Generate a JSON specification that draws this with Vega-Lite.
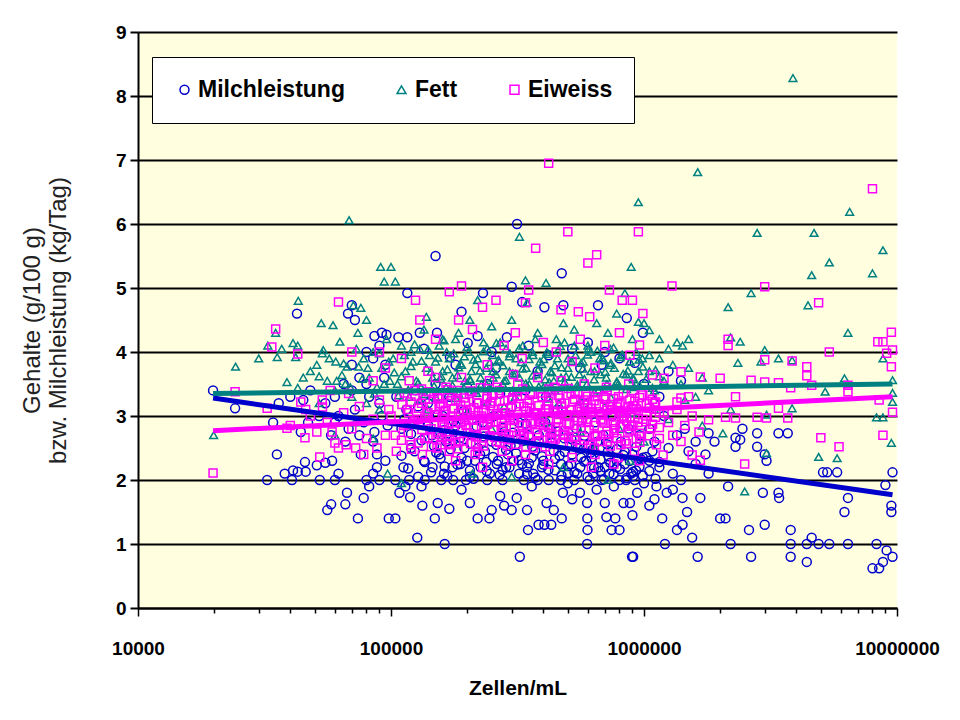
{
"$schema": "https://vega.github.io/schema/vega-lite/v6.json",
"width": 759, "height": 576,
"autosize": {"type": "none"},
"padding": {"left": 138, "top": 32, "right": 63, "bottom": 112},
"background": "white",
"config": {"view": {"fill": "#FFFFE0", "stroke": null}, "font": "Liberation Sans"},
"datasets": {
"milch": [
{"zellen":19800,"wert":3.4},{"zellen":24200,"wert":3.12},{"zellen":32400,"wert":2.0},{"zellen":34200,"wert":2.9},{"zellen":35400,"wert":2.4},{"zellen":38000,"wert":2.1},{"zellen":40600,"wert":2.0},{"zellen":41000,"wert":2.15},{"zellen":42800,"wert":2.13},{"zellen":45700,"wert":2.28},{"zellen":46000,"wert":2.13},{"zellen":42500,"wert":4.6},{"zellen":50900,"wert":2.23},{"zellen":52300,"wert":2.0},{"zellen":55000,"wert":2.27},{"zellen":58500,"wert":2.3},{"zellen":56000,"wert":1.53},{"zellen":58000,"wert":1.62},{"zellen":60000,"wert":2.0},{"zellen":62000,"wert":2.1},{"zellen":67000,"wert":1.8},{"zellen":66000,"wert":1.62},{"zellen":67600,"wert":4.6},{"zellen":70000,"wert":4.73},{"zellen":72000,"wert":4.5},{"zellen":74000,"wert":1.4},{"zellen":78000,"wert":1.72},{"zellen":80000,"wert":2.0},{"zellen":82000,"wert":1.9},{"zellen":85000,"wert":2.1},{"zellen":88000,"wert":2.4},{"zellen":90000,"wert":2.0},{"zellen":55000,"wert":3.2},{"zellen":48000,"wert":3.4},{"zellen":45000,"wert":3.25},{"zellen":60000,"wert":3.3},{"zellen":65000,"wert":3.5},{"zellen":70000,"wert":3.8},{"zellen":75000,"wert":3.6},{"zellen":80000,"wert":3.5},{"zellen":85000,"wert":3.9},{"zellen":90000,"wert":3.2},{"zellen":95000,"wert":3.8},{"zellen":60000,"wert":2.9},{"zellen":75000,"wert":2.7},{"zellen":85000,"wert":2.6},{"zellen":95000,"wert":2.3},{"zellen":98000,"wert":1.4},{"zellen":92000,"wert":4.3},{"zellen":62000,"wert":3.0},{"zellen":68000,"wert":2.8},{"zellen":72000,"wert":3.1},{"zellen":78000,"wert":2.9},{"zellen":82000,"wert":3.3},{"zellen":86000,"wert":2.75},{"zellen":92000,"wert":3.0},{"zellen":97000,"wert":2.85},{"zellen":66000,"wert":2.6},{"zellen":76000,"wert":2.4},{"zellen":88000,"wert":2.2},{"zellen":94000,"wert":3.6},{"zellen":58000,"wert":2.7},{"zellen":52000,"wert":3.0},{"zellen":47000,"wert":2.9},{"zellen":40000,"wert":3.3},{"zellen":36000,"wert":3.2},{"zellen":44000,"wert":2.75},{"zellen":70000,"wert":3.4},{"zellen":80000,"wert":4.0},{"zellen":86000,"wert":4.25},{"zellen":90000,"wert":4.1},
{"zellen":96000,"wert":4.27},{"zellen":107000,"wert":4.23},{"zellen":116000,"wert":4.23},{"zellen":130000,"wert":4.3},{"zellen":152000,"wert":4.3},{"zellen":116000,"wert":4.92},{"zellen":150000,"wert":5.5},{"zellen":190000,"wert":4.63},{"zellen":231000,"wert":4.92},{"zellen":300000,"wert":5.02},{"zellen":315000,"wert":6.0},{"zellen":201000,"wert":4.14},{"zellen":220000,"wert":4.25},{"zellen":287000,"wert":4.23},{"zellen":171000,"wert":3.92},{"zellen":330000,"wert":4.78},{"zellen":473000,"wert":5.23},{"zellen":404000,"wert":4.7},{"zellen":480000,"wert":4.73},{"zellen":658000,"wert":4.73},{"zellen":855000,"wert":4.53},{"zellen":990000,"wert":4.3},{"zellen":250000,"wert":4.0},{"zellen":350000,"wert":4.1},{"zellen":420000,"wert":3.95},{"zellen":520000,"wert":4.05},{"zellen":600000,"wert":4.15},{"zellen":700000,"wert":4.0},{"zellen":800000,"wert":3.9},{"zellen":920000,"wert":3.83},{"zellen":135000,"wert":4.05},{"zellen":180000,"wert":3.8},{"zellen":260000,"wert":3.75},{"zellen":380000,"wert":3.7},{"zellen":560000,"wert":3.75},{"zellen":680000,"wert":3.8},
{"zellen":105000,"wert":3.3},{"zellen":110000,"wert":2.8},{"zellen":115000,"wert":3.1},{"zellen":120000,"wert":2.5},{"zellen":125000,"wert":3.4},{"zellen":130000,"wert":2.9},{"zellen":135000,"wert":2.3},{"zellen":140000,"wert":3.2},{"zellen":145000,"wert":2.7},{"zellen":150000,"wert":3.5},{"zellen":155000,"wert":2.4},{"zellen":160000,"wert":3.0},{"zellen":165000,"wert":2.6},{"zellen":170000,"wert":3.3},{"zellen":175000,"wert":2.2},{"zellen":180000,"wert":2.85},{"zellen":190000,"wert":3.1},{"zellen":195000,"wert":2.5},{"zellen":200000,"wert":3.45},{"zellen":210000,"wert":2.7},{"zellen":215000,"wert":2.3},{"zellen":220000,"wert":3.2},{"zellen":230000,"wert":2.9},{"zellen":235000,"wert":2.45},{"zellen":240000,"wert":3.5},{"zellen":250000,"wert":2.6},{"zellen":255000,"wert":3.0},{"zellen":265000,"wert":2.3},{"zellen":270000,"wert":3.35},{"zellen":280000,"wert":2.75},{"zellen":290000,"wert":2.4},{"zellen":300000,"wert":3.15},{"zellen":310000,"wert":2.55},{"zellen":320000,"wert":2.9},{"zellen":330000,"wert":2.25},{"zellen":340000,"wert":3.4},{"zellen":350000,"wert":2.7},{"zellen":360000,"wert":2.35},{"zellen":370000,"wert":3.05},{"zellen":385000,"wert":2.6},{"zellen":400000,"wert":2.3},{"zellen":410000,"wert":3.3},{"zellen":425000,"wert":2.8},{"zellen":440000,"wert":2.45},{"zellen":455000,"wert":3.1},{"zellen":470000,"wert":2.25},{"zellen":485000,"wert":2.65},{"zellen":500000,"wert":3.0},{"zellen":520000,"wert":2.4},{"zellen":540000,"wert":2.8},{"zellen":560000,"wert":2.2},{"zellen":580000,"wert":3.2},{"zellen":600000,"wert":2.55},{"zellen":620000,"wert":2.35},{"zellen":640000,"wert":2.9},{"zellen":660000,"wert":2.2},{"zellen":690000,"wert":2.7},{"zellen":720000,"wert":2.45},{"zellen":750000,"wert":3.0},{"zellen":780000,"wert":2.3},{"zellen":810000,"wert":2.6},{"zellen":840000,"wert":2.25},{"zellen":870000,"wert":2.8},{"zellen":900000,"wert":2.4},{"zellen":930000,"wert":2.15},{"zellen":960000,"wert":2.7},{"zellen":990000,"wert":2.35},
{"zellen":110000,"wert":2.38},{"zellen":113000,"wert":2.95},{"zellen":117000,"wert":2.18},{"zellen":120000,"wert":2.72},{"zellen":124000,"wert":2.45},{"zellen":128000,"wert":3.15},{"zellen":132000,"wert":2.62},{"zellen":136000,"wert":2.28},{"zellen":140000,"wert":2.86},{"zellen":144000,"wert":2.12},{"zellen":148000,"wert":2.53},{"zellen":153000,"wert":3.02},{"zellen":157000,"wert":2.34},{"zellen":162000,"wert":2.78},{"zellen":167000,"wert":2.06},{"zellen":172000,"wert":2.48},{"zellen":177000,"wert":2.92},{"zellen":183000,"wert":2.24},{"zellen":188000,"wert":2.66},{"zellen":194000,"wert":3.08},{"zellen":200000,"wert":2.3},{"zellen":206000,"wert":2.57},{"zellen":212000,"wert":2.02},{"zellen":218000,"wert":2.84},{"zellen":225000,"wert":2.4},{"zellen":232000,"wert":2.68},{"zellen":239000,"wert":2.14},{"zellen":246000,"wert":2.96},{"zellen":253000,"wert":2.36},{"zellen":261000,"wert":2.55},{"zellen":269000,"wert":2.08},{"zellen":277000,"wert":2.82},{"zellen":285000,"wert":2.47},{"zellen":294000,"wert":2.2},{"zellen":303000,"wert":2.74},{"zellen":312000,"wert":2.42},{"zellen":321000,"wert":2.1},{"zellen":331000,"wert":2.61},{"zellen":341000,"wert":2.88},{"zellen":351000,"wert":2.26},{"zellen":362000,"wert":2.52},{"zellen":372000,"wert":2.04},{"zellen":384000,"wert":2.7},{"zellen":395000,"wert":2.37},{"zellen":407000,"wert":2.9},{"zellen":419000,"wert":2.16},{"zellen":432000,"wert":2.58},{"zellen":445000,"wert":2.33},{"zellen":458000,"wert":2.76},{"zellen":472000,"wert":2.07},{"zellen":486000,"wert":2.44},{"zellen":501000,"wert":2.22},{"zellen":516000,"wert":2.64},{"zellen":531000,"wert":2.12},{"zellen":547000,"wert":2.5},{"zellen":564000,"wert":2.35},{"zellen":581000,"wert":2.69},{"zellen":598000,"wert":2.05},{"zellen":616000,"wert":2.43},{"zellen":635000,"wert":2.19},{"zellen":654000,"wert":2.6},{"zellen":673000,"wert":2.32},{"zellen":694000,"wert":2.01},{"zellen":714000,"wert":2.56},{"zellen":736000,"wert":2.27},{"zellen":758000,"wert":2.09},{"zellen":781000,"wert":2.48},{"zellen":804000,"wert":2.17},{"zellen":828000,"wert":2.39},{"zellen":853000,"wert":2.03},{"zellen":879000,"wert":2.3},{"zellen":905000,"wert":2.13},{"zellen":932000,"wert":2.52},{"zellen":960000,"wert":2.21},{"zellen":989000,"wert":2.07},{"zellen":1020000,"wert":2.36},{"zellen":1050000,"wert":2.14},{"zellen":1080000,"wert":2.45},{"zellen":1110000,"wert":2.02},{"zellen":1150000,"wert":2.28},
{"zellen":151000,"wert":2.43},{"zellen":163000,"wert":2.21},{"zellen":176000,"wert":2.62},{"zellen":190000,"wert":2.35},{"zellen":205000,"wert":2.05},{"zellen":221000,"wert":2.5},{"zellen":238000,"wert":2.28},{"zellen":256000,"wert":2.67},{"zellen":276000,"wert":2.16},{"zellen":297000,"wert":2.54},{"zellen":320000,"wert":2.31},{"zellen":345000,"wert":2.09},{"zellen":371000,"wert":2.46},{"zellen":400000,"wert":2.24},{"zellen":431000,"wert":2.6},{"zellen":464000,"wert":2.38},{"zellen":500000,"wert":2.11},{"zellen":538000,"wert":2.55},{"zellen":580000,"wert":2.29},{"zellen":624000,"wert":2.47},{"zellen":672000,"wert":2.14},{"zellen":724000,"wert":2.37},{"zellen":780000,"wert":2.2},{"zellen":840000,"wert":2.44},{"zellen":905000,"wert":2.06},{"zellen":975000,"wert":2.32},
{"zellen":112000,"wert":2.2},{"zellen":128000,"wert":2.05},{"zellen":146000,"wert":2.2},{"zellen":162000,"wert":2.1},{"zellen":188000,"wert":2.25},{"zellen":205000,"wert":2.15},{"zellen":226000,"wert":2.2},{"zellen":246000,"wert":2.1},{"zellen":262000,"wert":2.25},{"zellen":285000,"wert":2.2},{"zellen":305000,"wert":2.3},{"zellen":345000,"wert":2.2},{"zellen":365000,"wert":2.1},{"zellen":395000,"wert":2.2},{"zellen":445000,"wert":2.15},{"zellen":515000,"wert":2.25},{"zellen":545000,"wert":2.1},{"zellen":590000,"wert":2.3},{"zellen":630000,"wert":2.1},{"zellen":700000,"wert":2.2},{"zellen":730000,"wert":2.1},{"zellen":760000,"wert":2.25},{"zellen":890000,"wert":2.1},
{"zellen":104000,"wert":2.0},{"zellen":118000,"wert":2.0},{"zellen":136000,"wert":2.0},{"zellen":158000,"wert":2.0},{"zellen":176000,"wert":2.0},{"zellen":198000,"wert":2.0},{"zellen":240000,"wert":2.0},{"zellen":276000,"wert":2.0},{"zellen":335000,"wert":2.0},{"zellen":380000,"wert":2.0},{"zellen":420000,"wert":2.0},{"zellen":470000,"wert":2.0},{"zellen":530000,"wert":2.0},{"zellen":610000,"wert":2.0},{"zellen":680000,"wert":2.0},{"zellen":800000,"wert":2.0},{"zellen":850000,"wert":2.0},{"zellen":920000,"wert":2.0},
{"zellen":104000,"wert":1.4},{"zellen":149000,"wert":1.4},{"zellen":153000,"wert":1.64},{"zellen":133000,"wert":1.6},{"zellen":119000,"wert":1.73},{"zellen":108000,"wert":1.8},{"zellen":114000,"wert":1.9},{"zellen":132000,"wert":1.9},{"zellen":205000,"wert":1.64},{"zellen":220000,"wert":1.4},{"zellen":250000,"wert":1.53},{"zellen":245000,"wert":1.4},{"zellen":300000,"wert":1.53},{"zellen":345000,"wert":1.53},{"zellen":314000,"wert":1.72},{"zellen":348000,"wert":1.22},{"zellen":383000,"wert":1.3},{"zellen":404000,"wert":1.3},{"zellen":430000,"wert":1.3},{"zellen":473000,"wert":1.4},{"zellen":412000,"wert":1.64},{"zellen":440000,"wert":1.53},{"zellen":478000,"wert":1.8},{"zellen":558000,"wert":1.8},{"zellen":596000,"wert":1.64},{"zellen":597000,"wert":1.4},{"zellen":598000,"wert":1.22},{"zellen":700000,"wert":1.64},{"zellen":710000,"wert":1.42},{"zellen":745000,"wert":1.22},{"zellen":770000,"wert":1.4},{"zellen":800000,"wert":1.22},{"zellen":830000,"wert":1.64},{"zellen":880000,"wert":1.64},{"zellen":127000,"wert":1.1},{"zellen":163000,"wert":1.0},{"zellen":596000,"wert":1.0},{"zellen":323000,"wert":0.8},{"zellen":897000,"wert":0.8},{"zellen":190000,"wert":1.85},{"zellen":270000,"wert":1.75},{"zellen":360000,"wert":1.9},{"zellen":500000,"wert":1.95},{"zellen":650000,"wert":1.85},{"zellen":760000,"wert":1.9},{"zellen":940000,"wert":1.8},{"zellen":170000,"wert":1.55},{"zellen":280000,"wert":1.6},{"zellen":520000,"wert":1.7},{"zellen":900000,"wert":1.45},
{"zellen":906000,"wert":0.8},{"zellen":1210000,"wert":1.0},{"zellen":1630000,"wert":0.8},{"zellen":1550000,"wert":1.1},{"zellen":1350000,"wert":1.22},{"zellen":1420000,"wert":1.3},{"zellen":1180000,"wert":1.4},{"zellen":1480000,"wert":1.5},{"zellen":1420000,"wert":1.72},{"zellen":1230000,"wert":1.8},{"zellen":1670000,"wert":1.72},{"zellen":1120000,"wert":1.9},{"zellen":1400000,"wert":2.0},{"zellen":1800000,"wert":2.1},{"zellen":1750000,"wert":2.4},{"zellen":2150000,"wert":1.9},{"zellen":2000000,"wert":1.4},{"zellen":2100000,"wert":1.4},{"zellen":2200000,"wert":1.0},{"zellen":2650000,"wert":0.8},{"zellen":2600000,"wert":1.22},{"zellen":3000000,"wert":1.3},{"zellen":2950000,"wert":1.8},{"zellen":3400000,"wert":1.8},{"zellen":3420000,"wert":1.72},{"zellen":3800000,"wert":1.22},{"zellen":3800000,"wert":1.0},{"zellen":3800000,"wert":0.8},{"zellen":4400000,"wert":0.72},{"zellen":4400000,"wert":1.0},{"zellen":4600000,"wert":1.1},{"zellen":4900000,"wert":1.0},{"zellen":5400000,"wert":1.0},{"zellen":6400000,"wert":1.0},{"zellen":6200000,"wert":1.5},{"zellen":6400000,"wert":1.72},{"zellen":5100000,"wert":2.12},{"zellen":5300000,"wert":2.12},{"zellen":5800000,"wert":2.12},{"zellen":8300000,"wert":1.0},{"zellen":9100000,"wert":0.9},{"zellen":8800000,"wert":0.72},{"zellen":8000000,"wert":0.62},{"zellen":8500000,"wert":0.62},{"zellen":9600000,"wert":0.8},{"zellen":9500000,"wert":1.5},{"zellen":9500000,"wert":1.6},{"zellen":9000000,"wert":1.92},{"zellen":9600000,"wert":2.12},{"zellen":2300000,"wert":2.52},{"zellen":2400000,"wert":2.63},{"zellen":2300000,"wert":2.66},{"zellen":2800000,"wert":2.52},{"zellen":2800000,"wert":2.73},{"zellen":3000000,"wert":2.4},{"zellen":3050000,"wert":2.3},{"zellen":3400000,"wert":2.73},{"zellen":3700000,"wert":2.73},{"zellen":2450000,"wert":2.8},{"zellen":1800000,"wert":2.73},
{"zellen":1050000,"wert":2.3},{"zellen":1100000,"wert":2.6},{"zellen":1150000,"wert":2.2},{"zellen":1250000,"wert":2.5},{"zellen":1300000,"wert":2.1},{"zellen":1050000,"wert":2.8},{"zellen":1200000,"wert":3.0},{"zellen":1350000,"wert":2.7},{"zellen":1500000,"wert":2.45},{"zellen":1600000,"wert":2.25},{"zellen":1100000,"wert":1.7},{"zellen":1000000,"wert":1.95},{"zellen":1050000,"wert":1.6},{"zellen":1300000,"wert":1.85},{"zellen":1450000,"wert":2.8},{"zellen":1600000,"wert":2.6},{"zellen":1900000,"wert":2.6},{"zellen":1150000,"wert":3.3},{"zellen":1000000,"wert":3.5},{"zellen":1250000,"wert":3.7},{"zellen":1400000,"wert":3.55}
],
"fett": [
{"zellen":19900,"wert":2.7},{"zellen":24300,"wert":3.77},{"zellen":32600,"wert":4.1},{"zellen":35500,"wert":3.92},{"zellen":35000,"wert":4.3},{"zellen":41000,"wert":4.14},{"zellen":42800,"wert":4.1},{"zellen":42000,"wert":3.92},{"zellen":53000,"wert":4.45},{"zellen":43000,"wert":4.8},{"zellen":50900,"wert":3.8},{"zellen":54000,"wert":4.03},{"zellen":53500,"wert":3.98},{"zellen":62800,"wert":4.16},{"zellen":60500,"wert":3.85},{"zellen":64000,"wert":3.64},{"zellen":67000,"wert":3.77},{"zellen":74000,"wert":4.3},{"zellen":76000,"wert":4.69},{"zellen":74500,"wert":3.77},{"zellen":38800,"wert":3.53},{"zellen":42800,"wert":3.44},{"zellen":68300,"wert":6.06},{"zellen":91000,"wert":5.33},{"zellen":94000,"wert":5.1},{"zellen":59000,"wert":4.42},{"zellen":71000,"wert":4.73},{"zellen":45000,"wert":3.6},{"zellen":48000,"wert":3.7},{"zellen":56000,"wert":3.55},{"zellen":60000,"wert":3.4},{"zellen":66000,"wert":3.5},{"zellen":70000,"wert":3.3},{"zellen":78000,"wert":3.9},{"zellen":82000,"wert":3.6},{"zellen":85000,"wert":4.0},{"zellen":88000,"wert":3.45},{"zellen":92000,"wert":3.75},{"zellen":96000,"wert":4.2},{"zellen":99000,"wert":3.55},{"zellen":80000,"wert":4.5},{"zellen":37000,"wert":4.05},{"zellen":30000,"wert":3.9},{"zellen":52000,"wert":3.2},{"zellen":80000,"wert":3.2},{"zellen":90000,"wert":3.1},{"zellen":72000,"wert":2.9},{"zellen":97000,"wert":2.1},{"zellen":110000,"wert":1.95},{"zellen":60000,"wert":2.7},{"zellen":85000,"wert":2.65},
{"zellen":52000,"wert":3.62},{"zellen":57000,"wert":3.9},{"zellen":61000,"wert":3.55},{"zellen":65000,"wert":3.82},{"zellen":69000,"wert":3.45},{"zellen":73000,"wert":4.05},{"zellen":77000,"wert":3.58},{"zellen":81000,"wert":3.75},{"zellen":86000,"wert":3.35},{"zellen":90000,"wert":3.98},{"zellen":94000,"wert":3.5},{"zellen":98000,"wert":3.85},{"zellen":103000,"wert":3.68},{"zellen":107000,"wert":3.32},
{"zellen":322000,"wert":5.8},{"zellen":340000,"wert":5.12},{"zellen":410000,"wert":5.08},{"zellen":138000,"wert":4.55},{"zellen":220000,"wert":4.81},{"zellen":205000,"wert":4.5},{"zellen":345000,"wert":4.77},{"zellen":480000,"wert":4.45},{"zellen":650000,"wert":4.45},{"zellen":840000,"wert":4.92},{"zellen":890000,"wert":5.33},{"zellen":950000,"wert":6.34},{"zellen":100000,"wert":5.33},{"zellen":104000,"wert":5.1},{"zellen":120000,"wert":4.0},{"zellen":135000,"wert":4.35},{"zellen":160000,"wert":4.2},{"zellen":185000,"wert":4.3},{"zellen":250000,"wert":4.4},{"zellen":270000,"wert":4.15},{"zellen":300000,"wert":4.5},{"zellen":380000,"wert":4.3},{"zellen":450000,"wert":4.2},{"zellen":530000,"wert":4.35},{"zellen":600000,"wert":4.1},{"zellen":720000,"wert":4.3},{"zellen":780000,"wert":4.6},{"zellen":900000,"wert":4.2},{"zellen":1000000,"wert":4.45},
{"zellen":102000,"wert":3.9},{"zellen":106000,"wert":3.5},{"zellen":110000,"wert":4.1},{"zellen":114000,"wert":3.7},{"zellen":118000,"wert":3.3},{"zellen":122000,"wert":3.85},{"zellen":126000,"wert":3.55},{"zellen":130000,"wert":4.05},{"zellen":134000,"wert":3.4},{"zellen":138000,"wert":3.75},{"zellen":142000,"wert":3.95},{"zellen":146000,"wert":3.6},{"zellen":150000,"wert":3.3},{"zellen":155000,"wert":4.1},{"zellen":160000,"wert":3.7},{"zellen":165000,"wert":3.45},{"zellen":170000,"wert":3.9},{"zellen":175000,"wert":3.6},{"zellen":180000,"wert":4.2},{"zellen":185000,"wert":3.35},{"zellen":190000,"wert":3.8},{"zellen":196000,"wert":3.55},{"zellen":202000,"wert":4.0},{"zellen":208000,"wert":3.7},{"zellen":214000,"wert":3.4},{"zellen":220000,"wert":3.9},{"zellen":226000,"wert":3.6},{"zellen":232000,"wert":4.15},{"zellen":238000,"wert":3.75},{"zellen":245000,"wert":3.45},{"zellen":252000,"wert":3.95},{"zellen":260000,"wert":3.65},{"zellen":268000,"wert":3.85},{"zellen":276000,"wert":3.5},{"zellen":285000,"wert":4.05},{"zellen":294000,"wert":3.7},{"zellen":303000,"wert":3.4},{"zellen":312000,"wert":3.9},{"zellen":322000,"wert":3.6},{"zellen":332000,"wert":4.1},{"zellen":342000,"wert":3.75},{"zellen":352000,"wert":3.5},{"zellen":364000,"wert":3.95},{"zellen":376000,"wert":3.65},{"zellen":388000,"wert":3.85},{"zellen":400000,"wert":3.45},{"zellen":413000,"wert":4.0},{"zellen":426000,"wert":3.7},{"zellen":440000,"wert":3.55},{"zellen":455000,"wert":3.9},{"zellen":470000,"wert":3.6},{"zellen":485000,"wert":4.15},{"zellen":500000,"wert":3.75},{"zellen":518000,"wert":3.45},{"zellen":536000,"wert":3.95},{"zellen":555000,"wert":3.65},{"zellen":575000,"wert":3.85},{"zellen":595000,"wert":3.5},{"zellen":616000,"wert":4.0},{"zellen":638000,"wert":3.7},{"zellen":660000,"wert":3.4},{"zellen":685000,"wert":3.9},{"zellen":710000,"wert":3.6},{"zellen":736000,"wert":4.05},{"zellen":763000,"wert":3.75},{"zellen":790000,"wert":3.5},{"zellen":820000,"wert":3.95},{"zellen":850000,"wert":3.65},{"zellen":880000,"wert":3.85},{"zellen":915000,"wert":3.45},{"zellen":950000,"wert":3.7},{"zellen":985000,"wert":3.9},
{"zellen":110000,"wert":3.62},{"zellen":113000,"wert":3.95},{"zellen":117000,"wert":3.41},{"zellen":120000,"wert":3.78},{"zellen":124000,"wert":4.12},{"zellen":128000,"wert":3.52},{"zellen":132000,"wert":3.86},{"zellen":136000,"wert":3.34},{"zellen":140000,"wert":4.04},{"zellen":144000,"wert":3.69},{"zellen":148000,"wert":3.47},{"zellen":153000,"wert":3.91},{"zellen":157000,"wert":3.58},{"zellen":162000,"wert":4.18},{"zellen":167000,"wert":3.73},{"zellen":172000,"wert":3.39},{"zellen":177000,"wert":3.98},{"zellen":183000,"wert":3.64},{"zellen":188000,"wert":3.82},{"zellen":194000,"wert":3.44},{"zellen":200000,"wert":4.08},{"zellen":206000,"wert":3.55},{"zellen":212000,"wert":3.88},{"zellen":218000,"wert":3.36},{"zellen":225000,"wert":3.71},{"zellen":232000,"wert":4.01},{"zellen":239000,"wert":3.49},{"zellen":246000,"wert":3.84},{"zellen":253000,"wert":3.6},{"zellen":261000,"wert":4.14},{"zellen":269000,"wert":3.43},{"zellen":277000,"wert":3.79},{"zellen":285000,"wert":3.56},{"zellen":294000,"wert":3.93},{"zellen":303000,"wert":3.67},{"zellen":312000,"wert":3.38},{"zellen":321000,"wert":4.06},{"zellen":331000,"wert":3.74},{"zellen":341000,"wert":3.51},{"zellen":351000,"wert":3.89},{"zellen":362000,"wert":3.63},{"zellen":372000,"wert":4.2},{"zellen":384000,"wert":3.46},{"zellen":395000,"wert":3.81},{"zellen":407000,"wert":3.57},{"zellen":419000,"wert":3.97},{"zellen":432000,"wert":3.68},{"zellen":445000,"wert":3.4},{"zellen":458000,"wert":4.03},{"zellen":472000,"wert":3.76},{"zellen":486000,"wert":3.53},{"zellen":501000,"wert":3.9},{"zellen":516000,"wert":3.61},{"zellen":531000,"wert":4.1},{"zellen":547000,"wert":3.45},{"zellen":564000,"wert":3.83},{"zellen":581000,"wert":3.58},{"zellen":598000,"wert":3.96},{"zellen":616000,"wert":3.7},{"zellen":635000,"wert":3.37},{"zellen":654000,"wert":4.02},{"zellen":673000,"wert":3.65},{"zellen":694000,"wert":3.87},{"zellen":714000,"wert":3.5},{"zellen":736000,"wert":3.8},{"zellen":758000,"wert":4.07},{"zellen":781000,"wert":3.54},{"zellen":804000,"wert":3.92},{"zellen":828000,"wert":3.66},{"zellen":853000,"wert":3.42},{"zellen":879000,"wert":3.85},{"zellen":905000,"wert":3.6},{"zellen":932000,"wert":4.0},{"zellen":960000,"wert":3.48},{"zellen":989000,"wert":3.77},{"zellen":1020000,"wert":3.58},{"zellen":1050000,"wert":3.95},{"zellen":1080000,"wert":3.44},{"zellen":1110000,"wert":3.72},{"zellen":1150000,"wert":3.62},
{"zellen":150000,"wert":3.85},{"zellen":158000,"wert":3.62},{"zellen":166000,"wert":4.0},{"zellen":175000,"wert":3.48},{"zellen":185000,"wert":3.76},{"zellen":195000,"wert":3.93},{"zellen":205000,"wert":3.58},{"zellen":216000,"wert":3.81},{"zellen":228000,"wert":3.5},{"zellen":240000,"wert":4.06},{"zellen":253000,"wert":3.7},{"zellen":266000,"wert":3.88},{"zellen":280000,"wert":3.55},{"zellen":295000,"wert":3.98},{"zellen":311000,"wert":3.66},{"zellen":327000,"wert":3.84},{"zellen":344000,"wert":3.47},{"zellen":362000,"wert":4.0},{"zellen":381000,"wert":3.72},{"zellen":401000,"wert":3.89},{"zellen":422000,"wert":3.53},{"zellen":444000,"wert":3.79},{"zellen":467000,"wert":4.09},{"zellen":492000,"wert":3.62},{"zellen":517000,"wert":3.86},{"zellen":545000,"wert":3.49},{"zellen":573000,"wert":3.74},{"zellen":603000,"wert":4.05},{"zellen":635000,"wert":3.57},{"zellen":668000,"wert":3.9},{"zellen":703000,"wert":3.69},{"zellen":740000,"wert":3.83},{"zellen":779000,"wert":3.52},{"zellen":820000,"wert":3.96},{"zellen":863000,"wert":3.71},{"zellen":908000,"wert":3.57},{"zellen":956000,"wert":3.88},{"zellen":130000,"wert":3.25},{"zellen":180000,"wert":3.28},{"zellen":240000,"wert":3.22},{"zellen":310000,"wert":3.3},{"zellen":420000,"wert":3.27},{"zellen":560000,"wert":3.24},{"zellen":740000,"wert":3.29},
{"zellen":120000,"wert":2.9},{"zellen":160000,"wert":2.7},{"zellen":210000,"wert":2.1},{"zellen":250000,"wert":2.8},{"zellen":300000,"wert":2.05},{"zellen":350000,"wert":2.6},{"zellen":410000,"wert":2.9},{"zellen":480000,"wert":2.2},{"zellen":560000,"wert":2.75},{"zellen":640000,"wert":2.5},{"zellen":720000,"wert":2.0},{"zellen":800000,"wert":2.8},{"zellen":880000,"wert":2.3},{"zellen":1000000,"wert":2.6},{"zellen":140000,"wert":3.1},{"zellen":200000,"wert":3.05},{"zellen":280000,"wert":3.15},{"zellen":380000,"wert":3.0},{"zellen":460000,"wert":3.2},{"zellen":590000,"wert":3.1},{"zellen":700000,"wert":3.15},{"zellen":900000,"wert":3.05},
{"zellen":3880000,"wert":8.28},{"zellen":1630000,"wert":6.81},{"zellen":6500000,"wert":6.19},{"zellen":2800000,"wert":5.86},{"zellen":4700000,"wert":5.86},{"zellen":8800000,"wert":5.59},{"zellen":5400000,"wert":5.4},{"zellen":4600000,"wert":5.2},{"zellen":8000000,"wert":5.23},{"zellen":2150000,"wert":4.7},{"zellen":2650000,"wert":4.92},{"zellen":4450000,"wert":4.73},{"zellen":950000,"wert":4.47},{"zellen":6400000,"wert":4.3},{"zellen":1050000,"wert":4.34},{"zellen":1150000,"wert":4.2},{"zellen":1250000,"wert":4.05},{"zellen":1350000,"wert":4.15},{"zellen":1500000,"wert":4.2},{"zellen":1420000,"wert":4.1},{"zellen":2200000,"wert":4.23},{"zellen":2400000,"wert":4.16},{"zellen":3000000,"wert":4.03},{"zellen":2900000,"wert":3.85},{"zellen":3400000,"wert":3.9},{"zellen":3850000,"wert":3.87},{"zellen":2350000,"wert":3.83},{"zellen":1800000,"wert":3.4},{"zellen":2200000,"wert":3.1},{"zellen":2050000,"wert":2.73},{"zellen":2500000,"wert":1.82},{"zellen":3050000,"wert":2.42},{"zellen":3050000,"wert":3.02},{"zellen":3850000,"wert":3.12},{"zellen":4900000,"wert":2.36},{"zellen":5800000,"wert":2.34},{"zellen":5200000,"wert":3.38},{"zellen":6200000,"wert":3.59},{"zellen":8300000,"wert":2.98},{"zellen":8800000,"wert":2.98},{"zellen":9500000,"wert":2.58},{"zellen":9600000,"wert":3.56},{"zellen":9600000,"wert":3.36},{"zellen":9600000,"wert":3.22},{"zellen":8800000,"wert":3.9},
{"zellen":1050000,"wert":3.7},{"zellen":1100000,"wert":3.4},{"zellen":1150000,"wert":3.9},{"zellen":1200000,"wert":3.55},{"zellen":1300000,"wert":3.8},{"zellen":1400000,"wert":3.5},{"zellen":1500000,"wert":3.75},{"zellen":1600000,"wert":3.3},{"zellen":1700000,"wert":3.6},{"zellen":1100000,"wert":3.1},{"zellen":1250000,"wert":2.95},{"zellen":1450000,"wert":3.25},{"zellen":1700000,"wert":2.85}
],
"eiweiss": [
{"zellen":19800,"wert":2.11},{"zellen":24200,"wert":3.38},{"zellen":32400,"wert":3.12},{"zellen":35000,"wert":4.36},{"zellen":33800,"wert":4.08},{"zellen":42800,"wert":3.97},{"zellen":44000,"wert":3.22},{"zellen":38800,"wert":2.81},{"zellen":45700,"wert":2.66},{"zellen":52300,"wert":2.36},{"zellen":53500,"wert":3.25},{"zellen":53600,"wert":3.14},{"zellen":50900,"wert":2.75},{"zellen":57500,"wert":3.4},{"zellen":58500,"wert":2.75},{"zellen":60000,"wert":2.58},{"zellen":62000,"wert":2.5},{"zellen":66500,"wert":2.55},{"zellen":72500,"wert":2.5},{"zellen":62000,"wert":4.78},{"zellen":90000,"wert":4.0},{"zellen":48000,"wert":3.0},{"zellen":56000,"wert":2.9},{"zellen":65000,"wert":3.05},{"zellen":70000,"wert":2.8},{"zellen":75000,"wert":3.15},{"zellen":80000,"wert":2.65},{"zellen":85000,"wert":2.95},{"zellen":90000,"wert":3.25},{"zellen":95000,"wert":2.7},{"zellen":68000,"wert":3.35},{"zellen":78000,"wert":2.4},{"zellen":88000,"wert":2.5},{"zellen":98000,"wert":3.1},{"zellen":40000,"wert":2.85},{"zellen":46000,"wert":3.1},{"zellen":70000,"wert":4.0},{"zellen":85000,"wert":3.55},{"zellen":95000,"wert":3.75},
{"zellen":420000,"wert":6.95},{"zellen":500000,"wert":5.88},{"zellen":950000,"wert":5.88},{"zellen":373000,"wert":5.62},{"zellen":650000,"wert":5.52},{"zellen":600000,"wert":5.39},{"zellen":170000,"wert":4.94},{"zellen":190000,"wert":5.03},{"zellen":125000,"wert":4.81},{"zellen":230000,"wert":4.7},{"zellen":260000,"wert":4.81},{"zellen":340000,"wert":4.77},{"zellen":350000,"wert":4.97},{"zellen":470000,"wert":4.66},{"zellen":550000,"wert":4.63},{"zellen":610000,"wert":4.55},{"zellen":730000,"wert":4.97},{"zellen":820000,"wert":4.81},{"zellen":130000,"wert":4.5},{"zellen":185000,"wert":4.5},{"zellen":150000,"wert":4.2},{"zellen":210000,"wert":4.35},{"zellen":280000,"wert":4.1},{"zellen":310000,"wert":4.3},{"zellen":400000,"wert":4.15},{"zellen":450000,"wert":4.0},{"zellen":560000,"wert":4.2},{"zellen":700000,"wert":4.1},{"zellen":800000,"wert":4.3},{"zellen":880000,"wert":3.95},{"zellen":110000,"wert":3.9},{"zellen":140000,"wert":3.7},{"zellen":240000,"wert":3.8},{"zellen":330000,"wert":3.9},{"zellen":520000,"wert":3.85},{"zellen":640000,"wert":3.75},
{"zellen":100000,"wert":3.0},{"zellen":104000,"wert":2.7},{"zellen":108000,"wert":3.3},{"zellen":112000,"wert":2.85},{"zellen":116000,"wert":3.1},{"zellen":120000,"wert":2.55},{"zellen":124000,"wert":3.4},{"zellen":128000,"wert":2.95},{"zellen":132000,"wert":3.2},{"zellen":136000,"wert":2.65},{"zellen":140000,"wert":3.05},{"zellen":144000,"wert":2.8},{"zellen":148000,"wert":3.35},{"zellen":152000,"wert":2.5},{"zellen":156000,"wert":3.15},{"zellen":160000,"wert":2.9},{"zellen":165000,"wert":3.45},{"zellen":170000,"wert":2.7},{"zellen":175000,"wert":3.0},{"zellen":180000,"wert":3.25},{"zellen":186000,"wert":2.6},{"zellen":192000,"wert":3.1},{"zellen":198000,"wert":2.85},{"zellen":204000,"wert":3.35},{"zellen":210000,"wert":2.95},{"zellen":216000,"wert":2.55},{"zellen":222000,"wert":3.2},{"zellen":228000,"wert":3.0},{"zellen":234000,"wert":2.75},{"zellen":240000,"wert":3.3},{"zellen":247000,"wert":2.9},{"zellen":254000,"wert":3.1},{"zellen":261000,"wert":2.6},{"zellen":268000,"wert":3.4},{"zellen":276000,"wert":2.8},{"zellen":284000,"wert":3.05},{"zellen":292000,"wert":2.7},{"zellen":300000,"wert":3.25},{"zellen":308000,"wert":2.95},{"zellen":317000,"wert":3.5},{"zellen":326000,"wert":2.65},{"zellen":335000,"wert":3.15},{"zellen":345000,"wert":2.85},{"zellen":355000,"wert":3.35},{"zellen":365000,"wert":2.5},{"zellen":375000,"wert":3.05},{"zellen":386000,"wert":2.9},{"zellen":397000,"wert":3.3},{"zellen":408000,"wert":2.75},{"zellen":420000,"wert":3.1},{"zellen":432000,"wert":2.6},{"zellen":445000,"wert":3.45},{"zellen":458000,"wert":2.95},{"zellen":471000,"wert":3.2},{"zellen":485000,"wert":2.7},{"zellen":500000,"wert":3.0},{"zellen":515000,"wert":3.35},{"zellen":530000,"wert":2.85},{"zellen":546000,"wert":3.1},{"zellen":562000,"wert":2.55},{"zellen":580000,"wert":3.25},{"zellen":598000,"wert":2.9},{"zellen":616000,"wert":3.05},{"zellen":635000,"wert":2.7},{"zellen":655000,"wert":3.3},{"zellen":675000,"wert":2.95},{"zellen":696000,"wert":3.15},{"zellen":718000,"wert":2.6},{"zellen":740000,"wert":3.0},{"zellen":763000,"wert":2.8},{"zellen":787000,"wert":3.2},{"zellen":811000,"wert":2.55},{"zellen":836000,"wert":3.0},{"zellen":862000,"wert":2.75},{"zellen":889000,"wert":3.1},{"zellen":917000,"wert":2.45},{"zellen":945000,"wert":2.9},{"zellen":975000,"wert":3.2},
{"zellen":110000,"wert":2.62},{"zellen":110500,"wert":3.18},{"zellen":113000,"wert":3.36},{"zellen":113500,"wert":2.88},{"zellen":117000,"wert":2.74},{"zellen":117500,"wert":3.05},{"zellen":120000,"wert":3.22},{"zellen":120500,"wert":2.48},{"zellen":124000,"wert":2.92},{"zellen":124500,"wert":3.31},{"zellen":128000,"wert":2.58},{"zellen":128500,"wert":3.12},{"zellen":132000,"wert":3.42},{"zellen":132500,"wert":2.79},{"zellen":136000,"wert":2.97},{"zellen":136500,"wert":3.26},{"zellen":140000,"wert":2.66},{"zellen":140500,"wert":3.38},{"zellen":144000,"wert":3.14},{"zellen":144500,"wert":2.52},{"zellen":148000,"wert":2.86},{"zellen":148500,"wert":3.02},{"zellen":153000,"wert":3.29},{"zellen":153500,"wert":2.71},{"zellen":157000,"wert":2.55},{"zellen":157500,"wert":3.19},{"zellen":162000,"wert":3.07},{"zellen":162500,"wert":2.83},{"zellen":167000,"wert":2.63},{"zellen":167500,"wert":3.41},{"zellen":172000,"wert":3.24},{"zellen":172500,"wert":2.94},{"zellen":177000,"wert":2.77},{"zellen":177500,"wert":3.11},{"zellen":183000,"wert":3.35},{"zellen":183500,"wert":2.49},{"zellen":188000,"wert":2.89},{"zellen":188500,"wert":3.17},{"zellen":194000,"wert":2.61},{"zellen":194500,"wert":3.28},{"zellen":200000,"wert":3.06},{"zellen":200500,"wert":2.74},{"zellen":206000,"wert":3.39},{"zellen":206500,"wert":2.57},{"zellen":212000,"wert":2.81},{"zellen":212500,"wert":3.13},{"zellen":218000,"wert":3.21},{"zellen":218500,"wert":2.68},{"zellen":225000,"wert":2.96},{"zellen":225500,"wert":3.44},{"zellen":232000,"wert":2.53},{"zellen":232500,"wert":3.09},{"zellen":239000,"wert":3.27},{"zellen":239500,"wert":2.87},{"zellen":246000,"wert":2.69},{"zellen":246500,"wert":3.16},{"zellen":253000,"wert":3.33},{"zellen":253500,"wert":2.78},{"zellen":261000,"wert":2.91},{"zellen":261500,"wert":3.04},{"zellen":269000,"wert":2.59},{"zellen":269500,"wert":3.23},{"zellen":277000,"wert":3.12},{"zellen":277500,"wert":2.84},{"zellen":285000,"wert":2.72},{"zellen":285500,"wert":3.37},{"zellen":294000,"wert":3.01},{"zellen":294500,"wert":2.63},{"zellen":303000,"wert":3.28},{"zellen":303500,"wert":2.93},{"zellen":312000,"wert":2.56},{"zellen":312500,"wert":3.15},{"zellen":321000,"wert":3.19},{"zellen":321500,"wert":2.76},{"zellen":331000,"wert":2.85},{"zellen":331500,"wert":3.42},{"zellen":341000,"wert":3.08},{"zellen":341500,"wert":2.51},{"zellen":351000,"wert":2.67},{"zellen":351500,"wert":3.25},{"zellen":362000,"wert":3.34},{"zellen":362500,"wert":2.88},{"zellen":372000,"wert":2.79},{"zellen":372500,"wert":3.03},{"zellen":384000,"wert":3.16},{"zellen":384500,"wert":2.6},{"zellen":395000,"wert":2.94},{"zellen":395500,"wert":3.3},{"zellen":407000,"wert":2.52},{"zellen":407500,"wert":3.11},{"zellen":419000,"wert":3.23},{"zellen":419500,"wert":2.82},{"zellen":432000,"wert":2.73},{"zellen":432500,"wert":3.39},{"zellen":445000,"wert":3.05},{"zellen":445500,"wert":2.64},{"zellen":458000,"wert":3.32},{"zellen":458500,"wert":2.9},{"zellen":472000,"wert":2.58},{"zellen":472500,"wert":3.14},{"zellen":486000,"wert":3.2},{"zellen":486500,"wert":2.77},{"zellen":501000,"wert":2.87},{"zellen":501500,"wert":3.43},{"zellen":516000,"wert":3.1},{"zellen":516500,"wert":2.55},{"zellen":531000,"wert":2.68},{"zellen":531500,"wert":3.26},{"zellen":547000,"wert":3.36},{"zellen":547500,"wert":2.92},{"zellen":564000,"wert":2.81},{"zellen":564500,"wert":3.07},{"zellen":581000,"wert":3.17},{"zellen":581500,"wert":2.62},{"zellen":598000,"wert":2.95},{"zellen":598500,"wert":3.31},{"zellen":616000,"wert":2.54},{"zellen":616500,"wert":3.12},{"zellen":635000,"wert":3.24},{"zellen":635500,"wert":2.85},{"zellen":654000,"wert":2.7},{"zellen":654500,"wert":3.38},{"zellen":673000,"wert":3.03},{"zellen":673500,"wert":2.6},{"zellen":694000,"wert":3.3},{"zellen":694500,"wert":2.89},{"zellen":714000,"wert":2.76},{"zellen":714500,"wert":3.09},{"zellen":736000,"wert":3.18},{"zellen":736500,"wert":2.53},{"zellen":758000,"wert":2.9},{"zellen":758500,"wert":3.27},{"zellen":781000,"wert":2.65},{"zellen":781500,"wert":3.14},{"zellen":804000,"wert":3.21},{"zellen":804500,"wert":2.83},{"zellen":828000,"wert":2.97},{"zellen":828500,"wert":3.36},{"zellen":853000,"wert":2.57},{"zellen":853500,"wert":3.08},{"zellen":879000,"wert":3.25},{"zellen":879500,"wert":2.78},{"zellen":905000,"wert":2.86},{"zellen":905500,"wert":3.16},{"zellen":932000,"wert":3.11},{"zellen":932500,"wert":2.64},{"zellen":960000,"wert":2.73},{"zellen":960500,"wert":3.29},{"zellen":989000,"wert":3.33},{"zellen":989500,"wert":2.95},{"zellen":1020000,"wert":2.91},{"zellen":1021000,"wert":3.19},{"zellen":1050000,"wert":2.69},{"zellen":1051000,"wert":3.12},{"zellen":1080000,"wert":3.26},{"zellen":1081000,"wert":2.87},{"zellen":1110000,"wert":2.98},{"zellen":1111000,"wert":3.22},{"zellen":1150000,"wert":2.82},{"zellen":1151000,"wert":3.06},
{"zellen":151000,"wert":2.98},{"zellen":155000,"wert":3.27},{"zellen":159000,"wert":2.66},{"zellen":164000,"wert":3.09},{"zellen":169000,"wert":2.87},{"zellen":174000,"wert":3.32},{"zellen":180000,"wert":2.58},{"zellen":185000,"wert":3.04},{"zellen":191000,"wert":2.79},{"zellen":197000,"wert":3.21},{"zellen":203000,"wert":2.93},{"zellen":209000,"wert":3.38},{"zellen":215000,"wert":2.71},{"zellen":221000,"wert":3.06},{"zellen":228000,"wert":2.6},{"zellen":235000,"wert":3.18},{"zellen":242000,"wert":2.96},{"zellen":250000,"wert":3.35},{"zellen":257000,"wert":2.67},{"zellen":265000,"wert":3.01},{"zellen":273000,"wert":2.89},{"zellen":281000,"wert":3.24},{"zellen":289000,"wert":2.54},{"zellen":298000,"wert":3.13},{"zellen":307000,"wert":2.82},{"zellen":316000,"wert":3.31},{"zellen":326000,"wert":2.98},{"zellen":336000,"wert":2.69},{"zellen":346000,"wert":3.2},{"zellen":356000,"wert":2.91},{"zellen":367000,"wert":3.05},{"zellen":378000,"wert":2.74},{"zellen":389000,"wert":3.36},{"zellen":401000,"wert":2.85},{"zellen":413000,"wert":3.17},{"zellen":425000,"wert":2.66},{"zellen":438000,"wert":3.08},{"zellen":451000,"wert":2.94},{"zellen":465000,"wert":3.28},{"zellen":479000,"wert":2.72},{"zellen":493000,"wert":3.02},{"zellen":508000,"wert":2.88},{"zellen":523000,"wert":3.22},{"zellen":539000,"wert":2.62},{"zellen":555000,"wert":3.14},{"zellen":572000,"wert":2.97},{"zellen":589000,"wert":3.34},{"zellen":607000,"wert":2.79},{"zellen":625000,"wert":3.07},{"zellen":644000,"wert":2.68},{"zellen":664000,"wert":3.19},{"zellen":684000,"wert":2.92},{"zellen":704000,"wert":3.26},{"zellen":725000,"wert":2.71},{"zellen":747000,"wert":3.1},{"zellen":770000,"wert":2.86},{"zellen":793000,"wert":3.3},{"zellen":817000,"wert":2.99},{"zellen":841000,"wert":2.61},{"zellen":867000,"wert":3.15},{"zellen":893000,"wert":2.84},{"zellen":920000,"wert":3.23},{"zellen":948000,"wert":2.96},{"zellen":976000,"wert":2.68},
{"zellen":153000,"wert":2.75},{"zellen":161000,"wert":3.15},{"zellen":171000,"wert":2.55},{"zellen":183000,"wert":3.4},{"zellen":195000,"wert":2.95},{"zellen":207000,"wert":3.1},{"zellen":220000,"wert":2.45},{"zellen":233000,"wert":2.85},{"zellen":248000,"wert":3.2},{"zellen":263000,"wert":3.45},{"zellen":279000,"wert":2.65},{"zellen":296000,"wert":2.98},{"zellen":314000,"wert":3.38},{"zellen":333000,"wert":2.72},{"zellen":353000,"wert":3.12},{"zellen":374000,"wert":2.58},{"zellen":397000,"wert":3.0},{"zellen":421000,"wert":3.42},{"zellen":447000,"wert":2.83},{"zellen":474000,"wert":3.06},{"zellen":503000,"wert":2.67},{"zellen":534000,"wert":3.37},{"zellen":566000,"wert":2.9},{"zellen":600000,"wert":3.18},{"zellen":636000,"wert":2.5},{"zellen":675000,"wert":3.02},{"zellen":716000,"wert":3.41},{"zellen":760000,"wert":2.74},{"zellen":806000,"wert":3.05},{"zellen":855000,"wert":2.92},{"zellen":906000,"wert":3.4},{"zellen":962000,"wert":2.59},
{"zellen":105000,"wert":2.45},{"zellen":118000,"wert":3.55},{"zellen":133000,"wert":2.4},{"zellen":150000,"wert":3.6},{"zellen":170000,"wert":2.45},{"zellen":190000,"wert":3.6},{"zellen":215000,"wert":2.4},{"zellen":245000,"wert":3.55},{"zellen":275000,"wert":2.45},{"zellen":305000,"wert":3.65},{"zellen":340000,"wert":2.4},{"zellen":380000,"wert":3.6},{"zellen":425000,"wert":2.45},{"zellen":470000,"wert":3.55},{"zellen":520000,"wert":2.35},{"zellen":580000,"wert":3.5},{"zellen":640000,"wert":2.4},{"zellen":710000,"wert":3.45},{"zellen":790000,"wert":2.35},{"zellen":870000,"wert":3.5},{"zellen":960000,"wert":2.3},{"zellen":300000,"wert":2.3},{"zellen":230000,"wert":2.2},{"zellen":420000,"wert":2.25},{"zellen":620000,"wert":2.2},{"zellen":760000,"wert":2.25},{"zellen":180000,"wert":2.3},
{"zellen":8000000,"wert":6.55},{"zellen":1290000,"wert":5.03},{"zellen":3000000,"wert":5.02},{"zellen":4900000,"wert":4.77},{"zellen":990000,"wert":4.6},{"zellen":900000,"wert":4.81},{"zellen":9500000,"wert":4.31},{"zellen":8400000,"wert":4.16},{"zellen":8800000,"wert":4.16},{"zellen":5400000,"wert":4.0},{"zellen":9600000,"wert":4.03},{"zellen":9100000,"wert":3.98},{"zellen":9500000,"wert":3.77},{"zellen":3000000,"wert":3.88},{"zellen":3850000,"wert":3.86},{"zellen":4400000,"wert":3.77},{"zellen":4400000,"wert":3.63},{"zellen":2150000,"wert":4.2},{"zellen":2150000,"wert":4.1},{"zellen":960000,"wert":4.11},{"zellen":1080000,"wert":3.64},{"zellen":1200000,"wert":3.59},{"zellen":1400000,"wert":3.69},{"zellen":1670000,"wert":3.61},{"zellen":2000000,"wert":3.59},{"zellen":2650000,"wert":3.56},{"zellen":3000000,"wert":3.53},{"zellen":3400000,"wert":3.52},{"zellen":3800000,"wert":3.44},{"zellen":4600000,"wert":3.48},{"zellen":6400000,"wert":3.48},{"zellen":6400000,"wert":3.38},{"zellen":2300000,"wert":3.3},{"zellen":1350000,"wert":3.22},{"zellen":1400000,"wert":3.28},{"zellen":3400000,"wert":3.12},{"zellen":8500000,"wert":3.25},{"zellen":9600000,"wert":3.06},{"zellen":2100000,"wert":2.98},{"zellen":2300000,"wert":2.97},{"zellen":2800000,"wert":2.98},{"zellen":3050000,"wert":2.97},{"zellen":3700000,"wert":2.97},{"zellen":1800000,"wert":2.94},{"zellen":8800000,"wert":2.7},{"zellen":5000000,"wert":2.66},{"zellen":5900000,"wert":2.52},{"zellen":2500000,"wert":2.25},{"zellen":1670000,"wert":2.31},{"zellen":1550000,"wert":2.39},{"zellen":1190000,"wert":2.39},
{"zellen":1020000,"wert":3.0},{"zellen":1060000,"wert":2.8},{"zellen":1100000,"wert":3.2},{"zellen":1150000,"wert":2.65},{"zellen":1200000,"wert":3.05},{"zellen":1250000,"wert":2.9},{"zellen":1300000,"wert":2.7},{"zellen":1350000,"wert":3.1},{"zellen":1450000,"wert":2.85},{"zellen":1550000,"wert":3.0},{"zellen":1650000,"wert":2.75},{"zellen":1050000,"wert":3.35},{"zellen":1120000,"wert":2.55},{"zellen":1400000,"wert":2.6},{"zellen":1500000,"wert":3.3}
],
"trend_milch": [{"zellen":19800,"wert":3.28},{"zellen":9600000,"wert":1.77}],
"trend_fett": [{"zellen":19800,"wert":3.35},{"zellen":9600000,"wert":3.5}],
"trend_eiweiss": [{"zellen":19800,"wert":2.77},{"zellen":9600000,"wert":3.3}]
},
"encoding": {
"x": {"field": "zellen", "type": "quantitative",
  "scale": {"type": "log", "domain": [10000, 10000000], "nice": false},
  "axis": {"values": [10000,20000,30000,40000,50000,60000,70000,80000,90000,100000,200000,300000,400000,500000,600000,700000,800000,900000,1000000,2000000,3000000,4000000,5000000,6000000,7000000,8000000,9000000,10000000],
    "labelExpr": "indexof([10000,100000,1000000,10000000], datum.value) >= 0 ? format(datum.value, 'd') : ''",
    "tickSize": {"condition": {"test": "indexof([10000,100000,1000000,10000000], datum.value) >= 0", "value": 8}, "value": 5},
    "labelOverlap": false, "labelFlush": false, "labelFontSize": 19, "labelFontWeight": "bold", "labelColor": "black", "labelPadding": 23,
    "grid": false, "domainColor": "black", "domainWidth": 2, "tickColor": "black", "tickWidth": 1.5,
    "title": "Zellen/mL", "titleFontSize": 21, "titleFontWeight": "bold", "titleColor": "black", "titlePadding": 19}},
"y": {"field": "wert", "type": "quantitative",
  "scale": {"domain": [0, 9], "nice": false},
  "axis": {"values": [0,1,2,3,4,5,6,7,8,9], "tickSize": 8, "labelFontSize": 19, "labelFontWeight": "bold", "labelColor": "black", "labelPadding": 4,
    "grid": true, "gridColor": "black", "gridWidth": 2, "gridOpacity": 1, "domainColor": "black", "domainWidth": 2, "tickColor": "black", "tickWidth": 2,
    "title": ["Gehalte (g/100 g)", "bzw. Milchleistung (kg/Tag)"], "titleFontSize": 24, "titleFontWeight": "normal", "titleColor": "#222222", "titlePadding": 45}}
},
"layer": [
{"data": {"name": "milch"}, "mark": {"type": "point", "filled": false, "size": 80, "strokeWidth": 1.5, "opacity": 1},
 "encoding": {
  "color": {"datum": "Milchleistung", "type": "nominal", "scale": {"domain": ["Milchleistung", "Fett", "Eiweiss"], "range": ["#0000CC", "#008080", "#FF00FF"]},
   "legend": {"orient": "none", "legendX": 14, "legendY": 25, "direction": "horizontal", "title": null, "fillColor": "white", "strokeColor": "black", "padding": 21, "labelFontSize": 23, "labelFontWeight": "bold", "labelColor": "black", "symbolSize": 80, "symbolStrokeWidth": 1.5, "columnPadding": 45, "labelOffset": 2}},
  "shape": {"datum": "Milchleistung", "type": "nominal", "scale": {"domain": ["Milchleistung", "Fett", "Eiweiss"], "range": ["circle", "triangle-up", "square"]},
   "legend": {"orient": "none", "legendX": 14, "legendY": 25, "direction": "horizontal", "title": null, "fillColor": "white", "strokeColor": "black", "padding": 21, "labelFontSize": 23, "labelFontWeight": "bold", "labelColor": "black", "symbolSize": 80, "symbolStrokeWidth": 1.5, "columnPadding": 45, "labelOffset": 2}}}},
{"data": {"name": "fett"}, "mark": {"type": "point", "filled": false, "size": 60, "strokeWidth": 1.5, "opacity": 1},
 "encoding": {"color": {"datum": "Fett", "type": "nominal"}, "shape": {"datum": "Fett", "type": "nominal"}}},
{"data": {"name": "eiweiss"}, "mark": {"type": "point", "filled": false, "size": 64, "strokeWidth": 1.5, "opacity": 1},
 "encoding": {"color": {"datum": "Eiweiss", "type": "nominal"}, "shape": {"datum": "Eiweiss", "type": "nominal"}}},
{"data": {"name": "trend_milch"}, "mark": {"type": "line", "color": "#0000CC", "strokeWidth": 5}, "encoding": {}},
{"data": {"name": "trend_fett"}, "mark": {"type": "line", "color": "#008080", "strokeWidth": 5}, "encoding": {}},
{"data": {"name": "trend_eiweiss"}, "mark": {"type": "line", "color": "#FF00FF", "strokeWidth": 5}, "encoding": {}}
]
}
